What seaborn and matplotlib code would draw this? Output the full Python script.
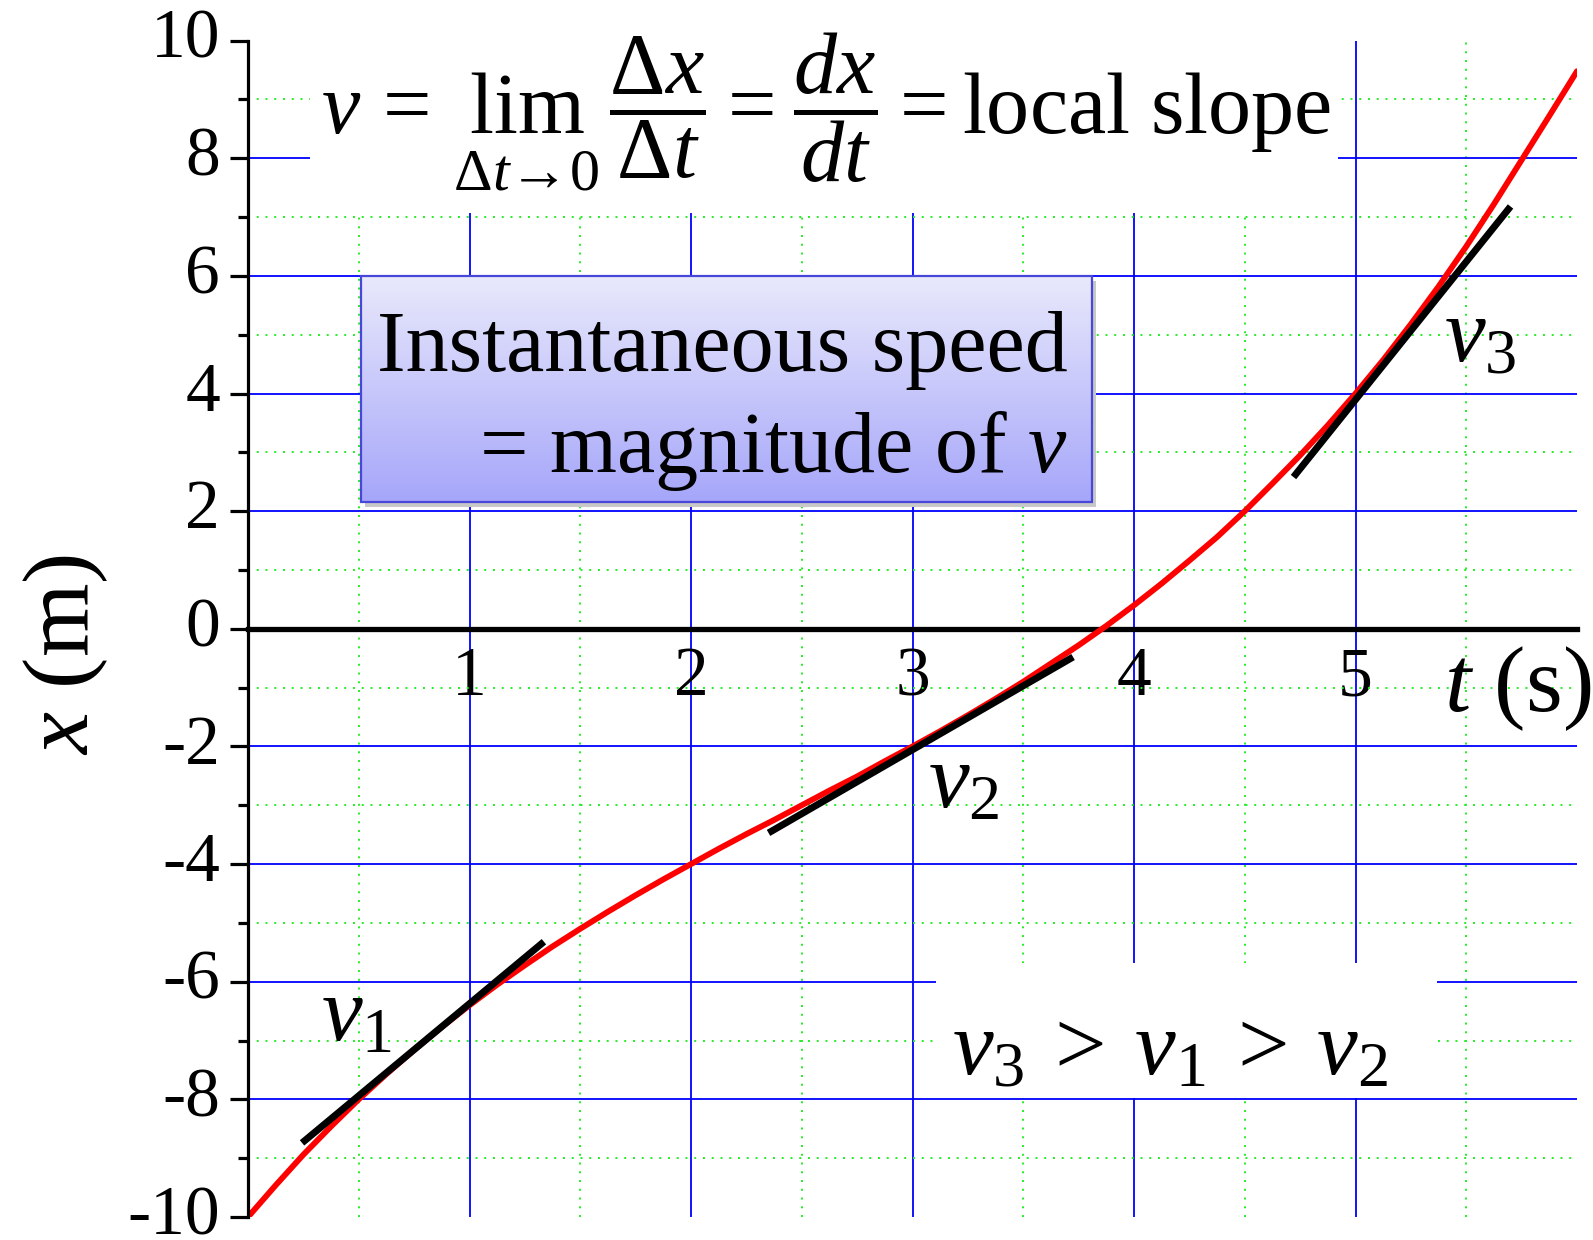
import numpy as np
import pandas as pd
import matplotlib
matplotlib.use("Agg")
import matplotlib.pyplot as plt
import matplotlib.transforms as mtransforms
from matplotlib.patches import Rectangle
from matplotlib.ticker import FixedLocator
import seaborn as sns

# Position x(t) of the moving object, sampled along the red curve
t_curve = [0.0, 0.125, 0.25, 0.375, 0.5, 0.625, 0.75, 0.875, 1.0, 1.125, 1.25,
           1.375, 1.5, 1.625, 1.75, 1.875, 2.0, 2.125, 2.25, 2.375, 2.5, 2.625,
           2.75, 2.875, 3.0, 3.125, 3.25, 3.375, 3.5, 3.625, 3.75, 3.875, 4.0,
           4.125, 4.25, 4.375, 4.5, 4.625, 4.75, 4.875, 5.0, 5.125, 5.25,
           5.375, 5.5, 5.625, 5.75, 5.875, 6.0]
x_curve = [-10.0, -9.46, -8.94, -8.46, -8.0, -7.57, -7.16, -6.77, -6.40, -6.05,
           -5.72, -5.40, -5.10, -4.81, -4.53, -4.26, -4.0, -3.74, -3.49, -3.25,
           -3.0, -2.75, -2.51, -2.25, -2.0, -1.74, -1.47, -1.19, -0.90, -0.59,
           -0.28, 0.05, 0.40, 0.77, 1.16, 1.56, 2.0, 2.47, 2.95, 3.46, 4.0,
           4.57, 5.18, 5.82, 6.50, 7.22, 7.97, 8.72, 9.48]

# Tangent segments (end points) showing the local slope at three instants
tangent_names = ["v1", "v2", "v3"]
tangent_t = [[0.244, 1.336], [2.35, 3.725], [4.72, 5.70]]
tangent_x = [[-8.74, -5.32], [-3.47, -0.48], [2.58, 7.18]]

# Axis ticks
y_ticks = [-10, -8, -6, -4, -2, 0, 2, 4, 6, 8, 10]
y_tick_labels = ["-10", "-8", "-6", "-4", "-2", "0", "2", "4", "6", "8", "10"]
t_ticks = [1, 2, 3, 4, 5]
t_tick_labels = ["1", "2", "3", "4", "5"]

sns.set_theme(style="white")
plt.rcParams["font.family"] = ["Liberation Serif", "DejaVu Serif"]
plt.rcParams["mathtext.fontset"] = "custom"
plt.rcParams["mathtext.rm"] = "Liberation Serif"
plt.rcParams["mathtext.it"] = "Liberation Serif:italic"
plt.rcParams["mathtext.bf"] = "Liberation Serif:bold"
for key in ("text.color", "axes.labelcolor", "xtick.color", "ytick.color"):
    plt.rcParams[key] = "black"

W, H, DPI = 1593, 1240, 100
fig = plt.figure(figsize=(W / DPI, H / DPI), dpi=DPI, facecolor="white")
ax = fig.add_axes([248 / W, 1 - 1217 / H, 1329 / W, (1217 - 40.6) / H])
ax.set_facecolor("white")

# Curve and tangents
curve = pd.DataFrame({"t": t_curve, "x": x_curve})
sns.lineplot(data=curve, x="t", y="x", ax=ax, color="#ff0000", lw=4.2,
             zorder=2.2, solid_capstyle="round", solid_joinstyle="round")
for name, tt, xx in zip(tangent_names, tangent_t, tangent_x):
    seg = pd.DataFrame({"t": tt, "x": xx})
    sns.lineplot(data=seg, x="t", y="x", ax=ax, color="black", lw=5.0,
                 zorder=2.5, solid_capstyle="butt")

ax.set_xlim(0, 6.0)
ax.set_ylim(-10, 10)
ax.set_xlabel("")
ax.set_ylabel("")

# Grid: blue major, dotted green minor
ax.xaxis.set_major_locator(FixedLocator(t_ticks))
ax.xaxis.set_minor_locator(FixedLocator([0.5, 1.5, 2.5, 3.5, 4.5, 5.5]))
ax.yaxis.set_major_locator(FixedLocator(y_ticks))
ax.yaxis.set_minor_locator(FixedLocator([-9, -7, -5, -3, -1, 1, 3, 5, 7, 9]))
ax.set_axisbelow(True)
ax.grid(which="major", color="#0000ff", lw=1.3)
ax.grid(which="minor", color="#22ee22", lw=1.4, ls=(0, (1, 3.5)))
for val, gl in zip(y_ticks, ax.yaxis.get_gridlines()):
    if val in (-10, 0, 10):
        gl.set_visible(False)

# Spines: left axis and the t axis through x = 0
for s in ("top", "right"):
    ax.spines[s].set_visible(False)
ax.spines["left"].set_linewidth(2.3)
ax.spines["left"].set_color("black")
ax.spines["bottom"].set_position(("data", 0))
ax.spines["bottom"].set_linewidth(3.8)
ax.spines["bottom"].set_color("black")
ax.spines["bottom"].set_zorder(2.1)

ax.set_yticks(y_ticks)
ax.set_yticklabels(y_tick_labels)
ax.set_xticks(t_ticks)
ax.set_xticklabels(t_tick_labels)
ax.tick_params(axis="y", which="major", direction="out", length=13, width=2.3,
               color="black", labelsize=50, pad=7, left=True)
ax.tick_params(axis="y", which="minor", direction="out", length=7, width=2.3,
               color="black", left=True)
ax.tick_params(axis="x", which="both", length=0, labelsize=50, pad=13)
lift = mtransforms.ScaledTranslation(0, 7 / DPI, fig.dpi_scale_trans)
for lbl in ax.get_yticklabels():
    lbl.set_transform(lbl.get_transform() + lift)

# Axis titles
ax.text(5.40, -1.40, "$t$ (s)", fontsize=68, ha="left", va="baseline", zorder=4)
fig.text(66 / W, 1 - 655 / H, "$x$ (m)", fontsize=68, rotation=90,
         ha="center", va="center")

# White panels behind the formula and the inequality
ax.add_patch(Rectangle((0.28, 7.07), 4.64, 3.2, facecolor="white",
                       edgecolor="none", zorder=1.5))
ax.add_patch(Rectangle((3.106, -7.97), 2.26, 2.29, facecolor="white",
                       edgecolor="none", zorder=1.5))

ax.text(2.61, 8.78,
        r"$v\,=\,\lim_{\Delta t \to 0}\,\dfrac{\Delta x}{\Delta t}\>=\;"
        r"\dfrac{dx}{dt}\>=\>\mathrm{local\ slope}$",
        fontsize=62, ha="center", va="center", zorder=4)

ax.text(3.18, -7.57, r"$v_3\>>\>v_1\>>\>v_2$", fontsize=66, ha="left",
        va="baseline", zorder=4)

# Velocity labels next to tangents
ax.text(0.33, -7.0, r"$v_1$", fontsize=66, ha="left", va="baseline", zorder=4)
ax.text(3.07, -3.04, r"$v_2$", fontsize=66, ha="left", va="baseline", zorder=4)
ax.text(5.40, 4.56, r"$v_3$", fontsize=66, ha="left", va="baseline", zorder=4)

# Gradient call-out box with drop shadow
bx0, bx1, by0, by1 = 0.51, 3.81, 2.16, 6.0
shadow_tr = mtransforms.offset_copy(ax.transData, fig=fig, x=4, y=-5, units="dots")
ax.add_patch(Rectangle((bx0, by0), bx1 - bx0, by1 - by0, transform=shadow_tr,
                       facecolor="#c8c8c8", edgecolor="none", zorder=2.8))
top_c = np.array([233, 233, 252]) / 255
bot_c = np.array([166, 166, 250]) / 255
frac = np.linspace(0, 1, 256)[:, None]
grad = (top_c[None, :] * (1 - frac) + bot_c[None, :] * frac)[:, None, :]
ax.imshow(grad, extent=[bx0, bx1, by0, by1], origin="upper", aspect="auto",
          zorder=3, interpolation="bilinear")
ax.add_patch(Rectangle((bx0, by0), bx1 - bx0, by1 - by0, facecolor="none",
                       edgecolor="#4848d8", lw=1.6, zorder=3.1))
ax.text(3.70, 4.39, "Instantaneous speed", fontsize=62, ha="right",
        va="baseline", zorder=4)
ax.text(3.70, 2.67, r"= magnitude of $v$", fontsize=62, ha="right",
        va="baseline", zorder=4)

ax.set_xlim(0, 6.0)
ax.set_ylim(-10, 10)

fig.savefig("out.png", dpi=DPI, facecolor="white")
